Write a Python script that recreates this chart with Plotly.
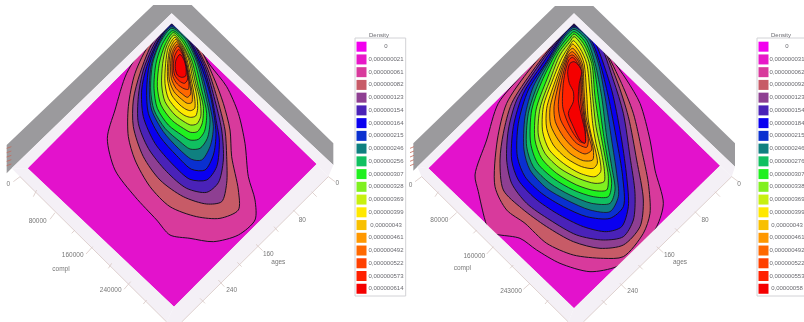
import plotly.graph_objects as go

# ---------- legend values and colours ----------
legend_title = "Density"
left_labels = ["0", "0,000000021", "0,000000061", "0,000000082", "0,000000123", "0,000000154", "0,000000164",
               "0,000000215", "0,000000246", "0,000000256", "0,000000307", "0,000000328", "0,000000369",
               "0,000000399", "0,00000043", "0,000000461", "0,000000492", "0,000000522", "0,000000573", "0,000000614"]
right_labels = ["0", "0,000000031", "0,000000062", "0,000000092", "0,000000123", "0,000000154", "0,000000184",
                "0,000000215", "0,000000246", "0,000000276", "0,000000307", "0,000000338", "0,000000369",
                "0,000000399", "0,00000043", "0,000000461", "0,000000492", "0,000000522", "0,000000553", "0,00000058"]
level_colors = ["#F200EE", "#E818C8", "#D83A9C", "#C75B67", "#8E3F92", "#4A22B8", "#0A00F0", "#0A30D0", "#0F8080",
                "#10C060", "#20F020", "#80F020", "#C8F010", "#FFE800", "#F8C000", "#FF9800", "#FF6800", "#FF4000",
                "#FF2000", "#F50000"]
floor_color = "#E312CC"
wall_color = "#9B9A9D"
band_color = "#F4F0F6"
tick_color = "#D8C8C4"
text_color = "#777777"

# ---------- left panel: density contours ----------
left_outer_pink = [(515,72),(440,130),(380,220),(345,330),(322,415),(345,510),(405,590),(470,660),(510,705),(570,715),(640,725),(715,705),(765,660),(765,600),(745,530),(735,430),(715,340),(680,260),(630,195),(575,115),(515,72)]
left_salmon = [(515,72),(450,130),(405,220),(385,320),(385,410),(405,480),(450,560),(510,620),(590,650),(660,655),(715,630),(715,570),(695,470),(690,390),(670,310),(640,230),(590,130),(515,72)]
left_purple = [(515,72),(460,125),(420,220),(400,300),(400,380),(430,470),(480,540),(550,590),(620,612),(665,605),(680,550),(680,470),(675,390),(650,290),(620,200),(575,120),(515,72)]
left_indigo = [(515,72),(470,120),(430,210),(415,290),(415,370),(445,445),(500,515),(560,565),(620,577),(655,548),(670,480),(665,390),(642,290),(615,200),(570,115),(515,72)]
left_blue = [(515,72),(475,120),(440,200),(425,270),(430,350),(465,430),(520,495),(570,538),(620,540),(650,500),(658,420),(650,370),(635,290),(610,200),(565,115),(515,72)]
left_blue2 = [(515,75),(480,115),(448,195),(440,270),(445,340),(480,410),(530,467),(575,508),(615,510),(640,465),(648,400),(632,290),(600,190),(560,112),(515,75)]
left_teal = [(515,80),(490,105),(455,190),(448,270),(455,330),(490,395),(535,445),(575,478),(605,480),(630,440),(640,380),(622,285),(595,188),(558,112),(515,80)]
left_green = [(515,85),(482,125),(458,190),(452,270),(462,330),(495,385),(540,425),(570,447),(600,445),(622,415),(630,360),(615,280),(590,185),(555,115),(515,85)]
left_lime = [(518,92),(488,130),(468,190),(462,265),(472,325),(505,375),(545,405),(570,420),(595,418),(613,395),(620,340),(605,270),(582,180),(550,118),(518,92)]
left_chartreuse = [(520,98),(495,135),(478,190),(472,260),(483,315),(515,360),(550,385),(572,397),(592,395),(606,372),(610,320),(595,260),(575,180),(548,125),(520,98)]
left_yellowgreen = [(522,105),(500,138),(488,190),(485,255),(495,305),(525,345),(552,365),(572,375),(590,372),(602,350),(600,300),(587,250),(570,180),(545,130),(522,105)]
left_yellow = [(525,112),(505,142),(497,190),(495,250),(505,295),(532,330),(555,347),(572,352),(587,348),(593,325),(590,285),(578,235),(565,175),(545,135),(525,112)]
left_amber = [(527,118),(510,145),(503,190),(503,240),(515,285),(540,315),(558,328),(572,332),(584,325),(585,305),(580,270),(572,230),(560,175),(545,140),(527,118)]
left_orange = [(530,125),(513,150),(507,190),(508,240),(522,275),(545,298),(562,310),(575,308),(577,285),(570,240),(558,180),(545,145),(530,125)]
left_deep_orange = [(532,132),(517,155),(512,190),(514,235),(528,265),(548,283),(562,292),(572,282),(568,245),(558,190),(545,150),(532,132)]
left_red_orange = [(534,138),(520,160),(516,195),(519,230),(532,252),(552,266),(565,268),(566,240),(556,190),(546,155),(534,138)]
left_scarlet = [(536,148),(524,168),(520,198),(524,225),(538,243),(553,250),(562,240),(558,200),(548,165),(536,148)]
left_red = [(540,163),(528,180),(526,205),(532,225),(545,232),(557,228),(558,205),(552,180),(540,163)]

# ---------- right panel: density contours ----------
right_outer_pink = [(492,72),(420,130),(340,220),(265,310),(230,420),(195,525),(205,575),(225,660),(240,700),(270,705),(330,715),(380,750),(450,790),(540,815),(620,800),(680,760),(740,680),(760,610),(735,510),(720,420),(690,310),(650,240),(600,170),(545,110),(492,72)]
right_salmon = [(492,72),(430,125),(350,220),(290,310),(262,420),(255,560),(290,630),(345,670),(410,730),(490,765),(580,775),(640,770),(700,700),(720,640),(715,550),(695,450),(670,340),(630,240),(570,130),(492,72)]
right_purple = [(492,72),(440,120),(370,210),(305,310),(280,400),(270,480),(280,570),(335,625),(410,680),(490,725),(570,745),(640,735),(690,680),(700,600),(680,480),(655,350),(620,240),(570,130),(492,72)]
right_indigo = [(492,72),(445,118),(380,205),(320,300),(295,390),(290,480),(305,550),(350,610),(420,660),(500,705),(580,720),(640,710),(670,660),(675,580),(660,470),(640,340),(610,240),(565,125),(492,72)]
right_blue = [(492,75),(455,110),(395,195),(340,280),(310,380),(305,480),(325,540),(375,595),(440,640),(520,680),(590,695),(635,680),(655,620),(650,530),(635,420),(610,290),(590,220),(550,120),(492,75)]
right_blue2 = [(492,78),(460,105),(410,185),(355,270),(325,370),(322,470),(345,530),(395,580),(460,620),(530,650),(600,655),(640,620),(638,530),(620,420),(595,290),(570,190),(540,115),(492,78)]
right_teal = [(492,82),(465,105),(420,175),(370,260),(345,350),(342,450),(360,510),(410,565),(470,600),(540,630),(600,635),(625,590),(620,520),(605,420),(585,290),(565,190),(535,115),(492,82)]
right_green = [(492,88),(470,105),(430,165),(385,250),(355,340),(350,440),(370,500),(420,550),(480,585),(545,610),(600,610),(615,570),(605,500),(590,410),(575,290),(555,190),(530,120),(492,88)]
right_lime = [(492,95),(475,110),(438,160),(395,245),(365,330),(362,430),(383,490),(430,535),(490,570),(550,590),(595,590),(605,550),(595,490),(580,400),(565,290),(550,190),(525,125),(492,95)]
right_chartreuse = [(492,102),(480,115),(445,160),(410,240),(378,330),(375,420),(395,475),(440,520),(500,555),(555,572),(590,570),(595,530),(585,470),(570,390),(555,290),(545,190),(520,130),(492,102)]
right_yellowgreen = [(492,110),(480,125),(450,165),(420,240),(390,325),(385,405),(405,460),(450,505),(505,535),(555,550),(582,545),(583,510),(573,450),(558,380),(548,290),(538,190),(515,135),(492,110)]
right_yellow = [(490,122),(480,135),(455,175),(428,240),(400,320),(398,395),(418,450),(460,490),(510,520),(555,530),(572,515),(570,480),(558,430),(548,370),(540,280),(530,190),(510,145),(490,122)]
right_amber = [(488,132),(478,145),(458,185),(435,245),(410,325),(410,385),(430,435),(470,475),(515,500),(550,505),(562,490),(556,450),(545,410),(535,360),(530,280),(522,190),(508,155),(488,132)]
right_orange = [(488,145),(476,155),(460,190),(440,250),(420,325),(422,375),(445,420),(480,460),(520,482),(548,480),(550,450),(540,400),(528,350),(522,270),(518,195),(505,165),(488,145)]
right_deep_orange = [(487,155),(475,165),(462,195),(445,255),(432,320),(436,365),(460,410),(492,445),(525,462),(545,450),(535,405),(525,355),(518,270),(515,200),(503,172),(487,155)]
right_red_orange = [(488,165),(476,170),(465,200),(452,255),(445,320),(452,360),(475,400),(500,430),(530,442),(535,420),(525,370),(515,290),(512,205),(503,180),(488,165)]
right_scarlet = [(488,172),(478,178),(468,205),(460,250),(458,320),(470,360),(490,400),(510,425),(525,428),(525,385),(515,330),(510,280),(510,210),(500,185),(488,172)]
right_red = [(492,185),(480,190),(473,215),(478,250),(490,275),(490,305),(475,340),(490,380),(510,420),(525,430),(525,395),(515,350),(505,300),(508,250),(515,215),(505,195),(492,185)]

left_contours = [left_outer_pink, left_salmon, left_purple, left_indigo, left_blue, left_blue2, left_teal, left_green,
                 left_lime, left_chartreuse, left_yellowgreen, left_yellow, left_amber, left_orange, left_deep_orange,
                 left_red_orange, left_scarlet, left_red]
right_contours = [right_outer_pink, right_salmon, right_purple, right_indigo, right_blue, right_blue2, right_teal,
                  right_green, right_lime, right_chartreuse, right_yellowgreen, right_yellow, right_amber, right_orange,
                  right_deep_orange, right_red_orange, right_scarlet, right_red]
contour_colors = level_colors[2:]

# ---------- frame geometry of each 3D box ----------
left_floor = [(83,505),(515,70),(950,492),(522,920),(83,505)]
right_floor = [(55,505),(492,70),(930,497),(492,925),(55,505)]
left_walls = [(20,435),(460,15),(575,15),(1000,430),(1000,495),(515,40),(35,505),(20,520),(20,435)]
right_walls = [(10,430),(435,18),(550,18),(975,430),(975,500),(492,40),(22,500),(10,512),(10,430)]
left_band = [(35,505),(515,40),(1000,495),(985,530),(545,966),(500,966),(60,530),(35,505)]
right_band = [(22,500),(492,40),(975,500),(965,530),(520,966),(475,966),(35,530),(22,500)]
left_axes_lines = [(60,530),(500,966),None,(985,530),(545,966)]
right_axes_lines = [(35,530),(475,966),None,(965,530),(520,966)]
left_ticks = [(60,530),(40,545),None,(110,570),(100,590),None,(165,638),(150,658),None,(225,690),(215,700),None,(278,740),(258,762),None,
              (335,790),(325,805),None,(392,845),(372,868),None,(440,900),(430,912),None,
              (985,530),(1005,545),None,(935,575),(950,590),None,(880,630),(898,648),None,(822,680),(835,695),None,
              (768,733),(788,752),None,(712,787),(725,800),None,(655,840),(673,860),None,(600,895),(615,910)]
right_ticks = [(35,530),(15,545),None,(85,575),(75,590),None,(140,638),(118,658),None,(200,690),(190,700),None,(250,740),(230,762),None,
               (310,795),(300,805),None,(360,850),(340,868),None,(415,900),(405,912),None,
               (965,530),(985,545),None,(915,575),(930,590),None,(855,635),(872,652),None,(795,685),(808,698),None,
               (740,740),(760,758),None,(685,795),(698,808),None,(630,850),(648,868),None,(575,900),(590,915)]
left_hatch = [(20,445),(34,440),None,(20,458),(34,453),None,(20,471),(34,466),None,(20,484),(34,479),None,(20,497),(34,492)]
right_hatch = [(0,445),(12,440),None,(0,458),(12,453),None,(0,471),(12,466),None,(0,484),(12,479),None,(0,497),(12,492)]

left_axis_text = ["0", "80000", "160000", "compl", "240000", "0", "80", "160", "ages", "240"]
left_text_pos = [(25,552),(113,663),(218,767),(183,807),(332,872),(1012,550),(907,660),(805,763),(835,787),(695,872)]
right_axis_text = ["0", "80000", "160000", "compl", "243000", "0", "80", "160", "ages", "240"]
right_text_pos = [(2,555),(88,662),(193,768),(157,805),(303,873),(987,553),(885,662),(778,765),(810,788),(668,873)]


def xs(pts):
    return [None if p is None else p[0] for p in pts]


def ys(pts):
    return [None if p is None else p[1] for p in pts]


fig = go.Figure()


def poly(pts, color, ax, line=None, width=0, spline=False):
    fig.add_trace(go.Scatter(
        x=xs(pts), y=ys(pts), mode="lines", fill="toself", fillcolor=color, xaxis=ax[0], yaxis=ax[1],
        line=dict(color=line or color, width=width, shape="spline" if spline else "linear", smoothing=0.8),
        hoverinfo="skip", showlegend=False))


def lines(pts, color, ax, width=0.8):
    fig.add_trace(go.Scatter(x=xs(pts), y=ys(pts), mode="lines", xaxis=ax[0], yaxis=ax[1],
                             line=dict(color=color, width=width), hoverinfo="skip", showlegend=False))


def panel(floor, walls, band, contours, axes_lines, ticks, hatch, texts, text_pos, ax):
    poly(walls, wall_color, ax)
    poly(floor, floor_color, ax)
    for i, (c, col) in enumerate(zip(contours, contour_colors)):
        poly(c, col, ax, line="#1A1020", width=1.0 if i < 6 else 0.8, spline=True)
    # frame band covers anything overshooting the floor
    poly([floor[0], floor[1], band[1], band[0], floor[0]], band_color, ax)
    poly([floor[1], floor[2], band[3], band[2], band[1], floor[1]], band_color, ax)
    poly([floor[2], floor[3], band[5], band[4], band[3], floor[2]], band_color, ax)
    poly([floor[3], floor[4], band[7], band[6], band[5], floor[3]], band_color, ax)
    lines(axes_lines, tick_color, ax)
    lines(ticks, tick_color, ax)
    lines(hatch, "#C46A5A", ax)
    fig.add_trace(go.Scatter(x=xs(text_pos), y=ys(text_pos), text=texts, mode="text", xaxis=ax[0], yaxis=ax[1],
                             textfont=dict(family="Liberation Sans", size=6.5, color=text_color),
                             hoverinfo="skip", showlegend=False, cliponaxis=False))


panel(left_floor, left_walls, left_band, left_contours, left_axes_lines, left_ticks, left_hatch,
      left_axis_text, left_text_pos, ("x", "y"))
panel(right_floor, right_walls, right_band, right_contours, right_axes_lines, right_ticks, right_hatch,
      right_axis_text, right_text_pos, ("x2", "y2"))

# ---------- legends (x in page pixels, y in legend rows) ----------
left_frame = [(355,-0.68),(405.7,-0.68),(405.7,19.57),(355,19.57),(355,-0.68)]
right_frame = [(757,-0.68),(830,-0.68),(830,19.57),(757,19.57),(757,-0.68)]


def legend(labels, frame, swatch_x, text_x, title_x):
    rows = list(range(len(labels)))
    fig.add_trace(go.Scatter(x=xs(frame), y=ys(frame), mode="lines", xaxis="x3", yaxis="y3",
                             line=dict(color="#D2D2D6", width=1), hoverinfo="skip", showlegend=False, cliponaxis=False))
    fig.add_trace(go.Scatter(x=[swatch_x] * len(rows), y=rows, mode="markers", xaxis="x3", yaxis="y3",
                             marker=dict(symbol="square", size=10, color=level_colors, line=dict(width=0)),
                             hoverinfo="skip", showlegend=False))
    fig.add_trace(go.Scatter(x=[text_x] * len(rows), y=rows, text=labels, mode="text", xaxis="x3", yaxis="y3",
                             textfont=dict(family="Liberation Sans", size=6, color="#6A6A70"),
                             hoverinfo="skip", showlegend=False, cliponaxis=False))
    fig.add_trace(go.Scatter(x=[title_x], y=[-0.86], text=[legend_title], mode="text", xaxis="x3", yaxis="y3",
                             textfont=dict(family="Liberation Sans", size=6, color="#6A6A70"),
                             hoverinfo="skip", showlegend=False, cliponaxis=False))


legend(left_labels, left_frame, 361.5, 386, 379)
legend(right_labels, right_frame, 763.5, 787, 781)

hidden = dict(visible=False, showgrid=False, zeroline=False, fixedrange=True)
fig.update_layout(
    width=804, height=322, margin=dict(l=0, r=0, t=0, b=0), paper_bgcolor="white", plot_bgcolor="rgba(0,0,0,0)",
    showlegend=False,
    xaxis=dict(domain=[0, 340 / 804], range=[0, 1020], **hidden),
    yaxis=dict(domain=[0, 1], range=[966, 0], **hidden),
    xaxis2=dict(domain=[410 / 804, 750 / 804], range=[0, 1020], anchor="y2", **hidden),
    yaxis2=dict(domain=[0, 1], range=[966, 0], anchor="x2", **hidden),
    xaxis3=dict(domain=[0, 1], range=[0, 804], anchor="y3", **hidden),
    yaxis3=dict(domain=[0, 1], range=[21.61, -3.665], anchor="x3", **hidden),
)
fig.write_html("out.html", config=dict(displayModeBar=False),
               post_script="document.body.style.margin='0';document.body.style.overflow='hidden';"
                           "var c=document.querySelector('.svg-container');if(c){c.style.filter='blur(0.6px)';}")
